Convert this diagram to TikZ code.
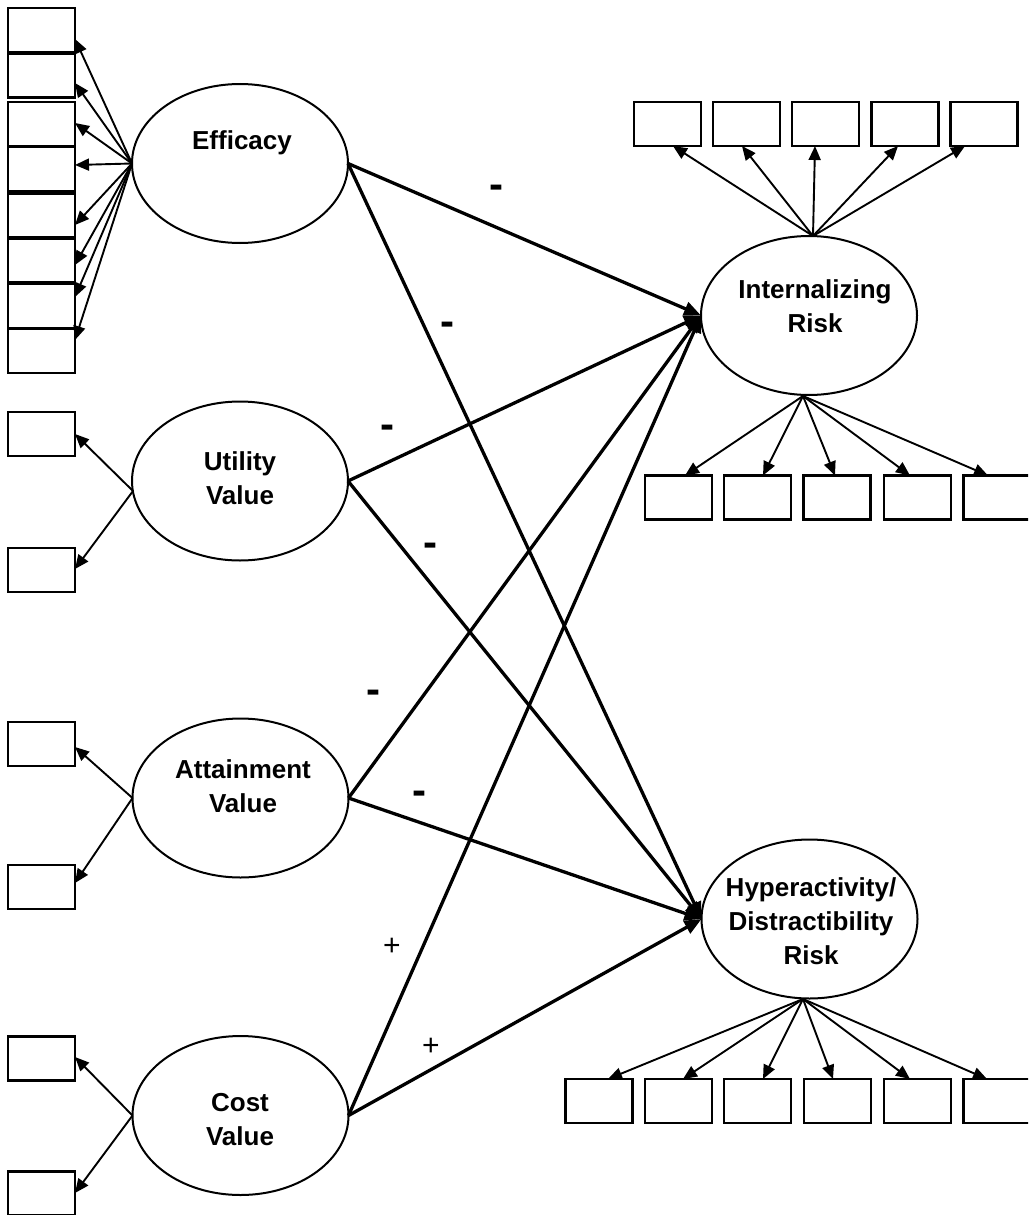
\documentclass[tikz,border=0pt]{standalone}
\usepackage{fontspec}
\setmainfont{Liberation Sans}
\usetikzlibrary{arrows.meta,shapes.geometric}
\begin{document}
\begin{tikzpicture}[x=1pt,y=-1pt,
  latent/.style={ellipse,draw,line width=2pt,minimum width=216pt,minimum height=159pt,inner sep=0pt,outer sep=0pt},
  lbl/.style={font=\bfseries\fontsize{26}{34}\selectfont,align=center,inner sep=0pt},
  indbox/.style={draw,line width=2.2pt,minimum width=67pt,minimum height=44pt,inner sep=0pt,outer sep=0pt},
  loadarrow/.style={line width=1.9pt,-{Triangle[length=14pt,width=12pt]}},
  structarrow/.style={line width=3.3pt,-{Triangle[length=17pt,width=14pt]}},
  minus/.style={font=\bfseries\fontsize{42}{46}\selectfont,inner sep=0pt},
  plus/.style={font=\fontsize{30}{34}\selectfont,inner sep=0pt},
]
\useasboundingbox (0,0) rectangle (1028,1215);
\clip (0,0) rectangle (1028,1215);

% latent variables
\node[latent] (eff) at (240,163.5) {};
\node[latent] (uti) at (240,481) {};
\node[latent] (att) at (240.5,798) {};
\node[latent] (cst) at (240.5,1115.5) {};
\node[latent] (int) at (809,315.5) {};
\node[latent] (hyp) at (809.5,919) {};

\node[lbl,anchor=base] (efft) at (242,149.5) {Efficacy};
\node[lbl] (utit) at (240,478.5) {Utility\\Value};
\node[lbl] (attt) at (243,786.5) {Attainment\\Value};
\node[lbl] (cstt) at (240,1119.5) {Cost\\Value};
\node[lbl] (intt) at (815,306.5) {Internalizing\\Risk};
\node[lbl] (hypt) at (811,921.5) {Hyperactivity/\\Distractibility\\Risk};

% fan points
\coordinate (utiF) at (133,491);
\coordinate (intT) at (813,236);
\coordinate (intB) at (803,396);
\coordinate (hypB) at (803,999);

% Efficacy indicators
\foreach \i/\y in {1/30,2/75.5,3/124,4/169,5/215.5,6/260.5,7/306,8/351}{
  \node[indbox] (e\i) at (41.5,\y) {};
}
\foreach \i/\t in {1/39,2/83,3/123,4/165,5/225,6/265,7/297,8/340}{
  \draw[loadarrow] (eff.west) -- (e\i.east |- 0,\t);
}

% Utility indicators
\node[indbox] (u1) at (41.5,434) {};
\node[indbox] (u2) at (41.5,570) {};
\draw[loadarrow] (utiF) -- (u1.east |- 0,434);
\draw[loadarrow] (utiF) -- (u2.east |- 0,569);

% Attainment indicators
\node[indbox] (a1) at (41.5,744) {};
\node[indbox] (a2) at (41.5,887) {};
\draw[loadarrow] (att.west) -- (a1.east |- 0,747);
\draw[loadarrow] (att.west) -- (a2.east |- 0,883);

% Cost indicators
\node[indbox] (c1) at (41.5,1058.5) {};
\node[indbox] (c2) at (41.5,1193.5) {};
\draw[loadarrow] (cst.west) -- (c1.east |- 0,1057);
\draw[loadarrow] (cst.west) -- (c2.east |- 0,1193);

% Internalizing top indicators
\foreach \i/\x/\t in {1/667.5/673,2/746.5/742,3/825.5/815,4/905/898,5/984/965}{
  \node[indbox] (it\i) at (\x,124) {};
  \draw[loadarrow] (intT) -- (it\i.south -| \t,0);
}

% Internalizing bottom indicators
\foreach \i/\x/\t in {1/678.5/685,2/757.5/763,3/837/835,4/917.5/910,5/997/988}{
  \node[indbox] (ib\i) at (\x,497.5) {};
  \draw[loadarrow] (intB) -- (ib\i.north -| \t,0);
}

% Hyperactivity bottom indicators
\foreach \i/\x/\t in {1/599/608,2/678.5/683,3/757.5/763,4/837.5/833,5/917.5/910,6/997/987}{
  \node[indbox] (hb\i) at (\x,1101) {};
  \draw[loadarrow] (hypB) -- (hb\i.north -| \t,0);
}

% structural paths
\foreach \s in {eff,uti,att,cst}{
  \draw[structarrow] (\s.east) -- (int.west);
  \draw[structarrow] (\s.east) -- (hyp.west);
}

% signs
\node[minus] (s1) at (496,192) {-};
\node[minus] (s2) at (447,329) {-};
\node[minus] (s3) at (387,432) {-};
\node[minus] (s4) at (430,550) {-};
\node[minus] (s5) at (373,697) {-};
\node[minus] (s6) at (419,798) {-};
\node[plus] (s7) at (392,947) {+};
\node[plus] (s8) at (431,1047) {+};
\end{tikzpicture}
\end{document}
